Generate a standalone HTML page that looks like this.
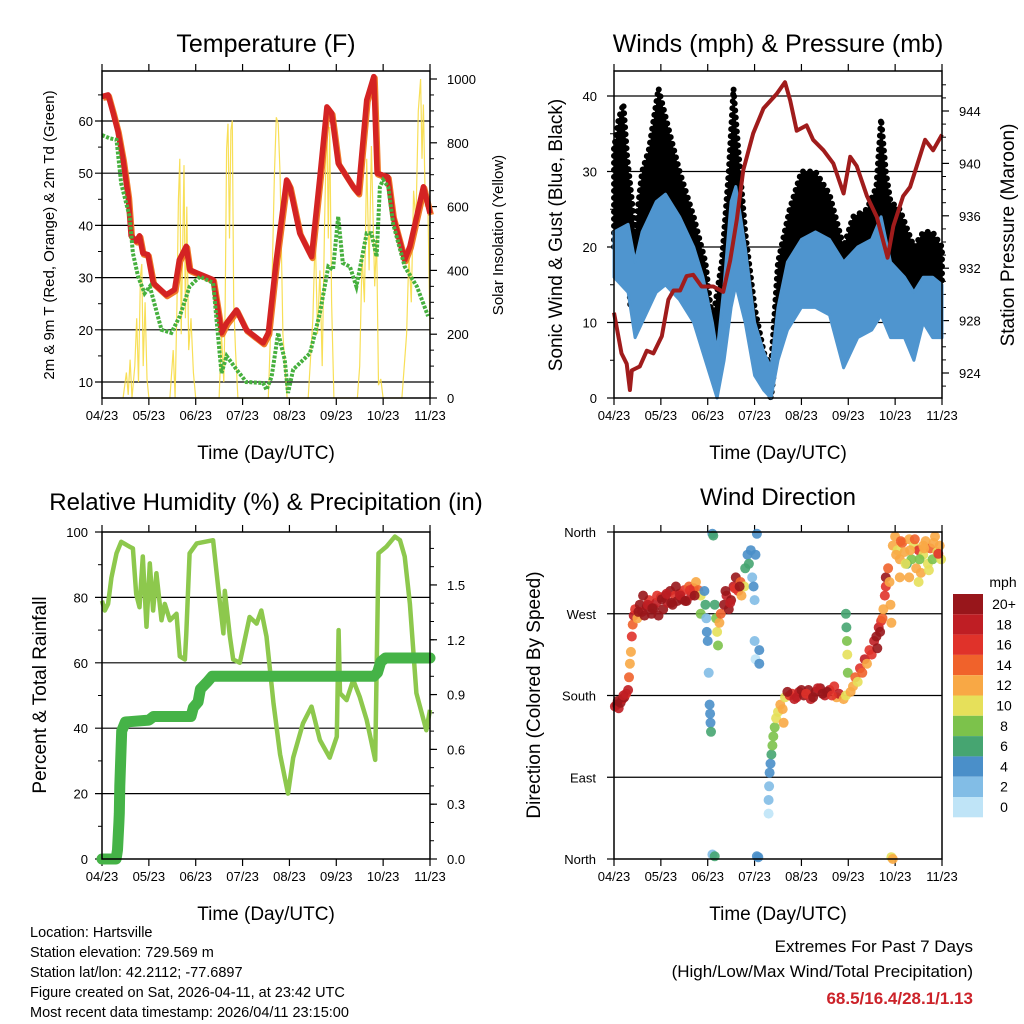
<!DOCTYPE html>
<html><head><meta charset="utf-8"><style>
html,body{margin:0;padding:0;background:#fff;}
svg{display:block;font-family:"Liberation Sans",sans-serif;}
</style></head><body>
<svg id="c" width="1024" height="1024" viewBox="0 0 1024 1024"></svg>
<script>
// ---------- data ----------
const monthLabels = ["04/23","05/23","06/23","07/23","08/23","09/23","10/23","11/23"];
const tempT = [0,.13,.24,.34,.45,.56,.62,.73,.8,.87,.98,1.09,1.37,1.55,1.65,1.8,1.87,2.02,2.37,2.55,2.66,2.87,3.08,3.44,3.55,3.72,3.94,4.01,4.22,4.47,4.65,4.8,4.9,5.04,5.36,5.47,5.65,5.8,5.87,6.1,6.21,6.46,6.57,6.86,7];
const tempV = [64.7,65,61.5,58,52.5,45.5,38,37,38,34.7,34.4,29,26.7,27.7,33.4,36,31.5,30.9,29.6,19.4,21.3,23.8,20,17.5,19.4,33.4,48.7,47.4,38.5,34,49.3,62.7,61.5,51.9,47.4,46.2,64,68.5,50,49.3,41.7,33.4,36,47.4,42.3];
const dewT = [0,.16,.31,.41,.59,.66,.77,.91,1.02,1.27,1.48,1.66,1.87,2.09,2.37,2.55,2.66,2.87,3.08,3.44,3.51,3.62,3.76,3.9,3.97,4.08,4.44,4.65,4.83,4.93,5.04,5.14,5.29,5.43,5.65,5.75,5.86,5.93,6,6.11,6.21,6.46,6.72,6.96];
const dewV = [57.3,56.7,56.4,48,41.7,34.7,30.2,27,28.3,20,19.4,22.6,28.3,30.2,29,11.7,15,12.4,10,9.8,8.5,11,19.4,14.3,7.9,12.4,15.5,23.2,32.1,31.5,41.7,32.8,32.1,28.3,38.5,38.5,34,47.4,48.7,47.4,40.4,32.1,28.3,22.6];
const solarT = [0.45,0.52,0.56,0.6,0.64,0.7,0.74,0.78,0.82,0.85,0.88,0.92,0.96,1.0,1.45,1.52,1.56,1.6,1.63,1.66,1.69,1.72,1.75,1.78,1.81,1.85,1.9,1.95,2.0,2.5,2.55,2.6,2.63,2.66,2.69,2.72,2.75,2.78,2.81,2.85,2.9,3.55,3.62,3.68,3.72,3.76,3.8,3.86,3.95,4.4,4.5,4.55,4.6,4.65,4.7,4.75,4.8,4.83,4.86,4.9,4.95,5.45,5.5,5.55,5.6,5.65,5.7,5.75,5.78,5.82,5.86,5.9,5.95,6.0,6.4,6.5,6.55,6.6,6.65,6.7,6.75,6.8,6.83,6.86,6.9,6.95,7.0];
const solarV = [0,80,10,120,0,100,250,50,380,420,100,300,60,0,0,150,0,300,620,750,200,450,730,250,600,150,250,80,0,0,200,50,300,780,860,500,840,870,300,150,0,0,300,700,880,860,700,200,0,0,250,520,200,400,100,550,900,500,850,300,0,0,100,450,300,750,400,790,600,350,500,40,60,0,0,200,450,300,650,550,900,1000,750,920,600,650,200];
const windT = [0,.3,.45,.6,.9,1.1,1.4,1.7,1.9,2.1,2.2,2.35,2.5,2.6,2.8,3.0,3.2,3.35,3.5,3.7,4.0,4.3,4.6,4.9,5.2,5.5,5.7,5.9,6.2,6.4,6.6,6.8,7];
const windLo = [16,14,8,10,14,15,13,10,6,2,0,5,12,15,10,3,1,0,5,9,12,12,11,4,8,9,11,8,8,5,10,8,8];
const windHi = [22,23,18,22,26,27,24,20,16,10,6,15,26,28,20,10,6,4,12,18,21,22,21,18,20,21,24,18,16,14,16,16,15];
const gustT = [0,.1,.2,.28,.35,.45,.6,.75,.95,1.15,1.4,1.7,1.95,2.1,2.3,2.45,2.55,2.65,2.8,3.0,3.2,3.35,3.5,3.75,4.0,4.3,4.6,4.9,5.1,5.4,5.6,5.7,5.8,5.9,6.1,6.4,6.6,6.8,7];
const gustLo = [20,21,22,20,12,12,16,18,20,20,17,14,10,5,6,14,20,20,14,6,2,0,8,15,18,18,17,10,13,15,16,17,16,16,16,12,14,14,15];
const gustHi = [33,37,39,32,28,22,30,33,41,36,30,24,18,10,18,30,41,33,22,12,6,4,18,25,30,30,27,20,24,25,28,37,30,26,25,20,22,22,20];
const presT = [0,.16,.27,.34,.38,.55,.7,.84,1.02,1.16,1.27,1.41,1.55,1.69,1.87,2.12,2.33,2.48,2.62,2.76,2.97,3.19,3.47,3.65,3.76,3.9,4.11,4.25,4.47,4.68,4.9,5.04,5.18,5.4,5.61,5.84,5.96,6.17,6.32,6.64,6.81,7];
const presV = [928.6,925.5,924.7,922.7,924.2,924.5,925.7,925.5,926.8,929.6,930.3,930.3,931.4,931.5,930.6,930.6,930.2,932.6,935.7,939.5,942.3,944.2,945.3,946.2,944.8,942.5,942.9,941.8,941,940,937.7,940.5,939.8,937.5,935.9,932.8,935.2,937.5,938.2,941.8,941,942.2];
const rhT = [0,.06,.13,.2,.31,.41,.59,.66,.73,.8,.87,.95,1.02,1.09,1.16,1.27,1.34,1.45,1.59,1.66,1.77,1.8,1.87,2.02,2.37,2.48,2.59,2.62,2.73,2.8,2.94,3.15,3.3,3.4,3.51,3.66,3.8,3.97,4.08,4.29,4.47,4.65,4.86,5.01,5.05,5.08,5.22,5.36,5.5,5.65,5.83,5.9,6.07,6.25,6.36,6.46,6.57,6.71,6.92,7];
const rhV = [79,76,78,86,93.5,97,95.5,95,81,77,92.5,71,90.4,76,87.4,73,78,73,75,62,61,69,93.5,96.5,97.5,83,69,82,68,61,60,74,72,76,68,47.6,32,20,31,41.5,46.6,36.4,31,37.4,70,50.7,48.6,54.7,49.6,42.5,30.3,93.5,95.5,98.6,97.5,92.5,78,50.7,39.4,45.6];
const rainT = [0,0.3,0.33,0.36,0.37,0.38,0.39,0.42,0.5,1.0,1.1,1.9,1.95,2.05,2.1,2.25,2.35,5.8,5.88,5.95,6.05,7];
const rainV = [0,0,0.05,0.2,0.25,0.4,0.48,0.7,0.75,0.76,0.78,0.78,0.83,0.86,0.93,0.97,1.0,1.0,1.02,1.08,1.1,1.1];
const dirT = [0.02,0.06,0.1,0.14,0.18,0.22,0.26,0.3,0.32,0.34,0.36,0.38,0.4,0.42,0.45,0.5,0.55,0.6,0.65,0.7,0.75,0.8,0.85,0.9,0.95,1.0,1.05,1.1,1.15,1.2,1.25,1.3,1.35,1.4,1.45,1.5,1.55,1.6,1.65,1.7,1.75,1.8,1.85,1.85,1.93,1.95,1.97,1.98,2.0,2.02,2.04,2.05,2.06,2.07,2.1,2.12,2.1,2.15,2.15,2.18,2.2,2.22,2.25,2.28,2.35,2.4,2.45,2.5,2.55,2.6,2.65,2.7,2.72,2.78,2.8,2.85,2.88,2.92,2.95,2.98,3.0,3.02,3.05,3.0,3.02,3.1,3.1,3.05,3.08,3.3,3.3,3.31,3.32,3.34,3.36,3.38,3.4,3.43,3.46,3.5,3.55,3.6,3.62,3.65,3.75,3.8,3.9,3.95,4.05,4.15,4.2,4.3,4.4,4.5,4.6,4.7,4.75,4.8,4.9,4.95,4.95,4.96,4.97,4.98,4.99,5.05,5.1,5.15,5.2,5.25,5.3,5.35,5.4,5.45,5.5,5.55,5.6,5.62,5.65,5.68,5.7,5.73,5.75,5.78,5.8,5.8,5.85,5.88,5.9,5.92,5.95,6.0,6.05,6.1,6.15,6.2,6.25,6.3,6.35,6.4,6.45,6.5,6.55,6.6,6.65,6.7,6.75,6.8,6.85,6.9,6.95,6.98,6.1,6.3,6.5,6.6,5.92,5.95,0.08,0.2,0.52,0.62,0.72,0.82,0.92,1.02,1.12,1.22,1.32,1.42,1.52,1.62,1.72,2.38,2.48,2.58,2.68,3.7,3.85,4.0,4.1,4.25,4.35,4.45,4.55,4.65,6.02,6.12,6.22,6.32,6.42,6.52,6.62,6.72,6.82,6.92];
const dirDeg = [168,170,166,172,176,178,182,186,200,215,228,245,258,268,275,265,280,272,268,278,285,270,276,282,268,288,275,290,282,295,280,290,284,292,286,296,284,300,290,298,305,296,290,270,295,280,265,250,240,205,170,160,150,140,358,356,5,3,280,265,250,235,260,270,280,290,275,285,300,310,295,305,290,300,320,335,325,340,310,300,285,335,358,240,220,230,215,3,2,50,65,80,95,105,115,125,135,145,155,162,170,165,150,178,180,182,178,184,180,186,176,184,188,180,186,190,178,182,176,180,270,255,240,225,205,184,190,200,195,210,205,220,215,230,225,240,245,232,255,250,262,265,275,290,310,300,320,305,280,260,345,355,340,330,348,338,325,352,330,345,320,340,315,335,350,325,342,330,355,338,345,330,310,310,305,345,2,0,174,180,272,290,280,276,290,286,292,282,300,290,284,296,290,295,282,298,300,184,176,186,182,178,188,182,184,180,335,350,325,340,352,330,342,318,348,336];
const dirSpd = [18,20,19,20,18,20,16,18,14,12,12,16,14,18,16,12,20,18,20,20,16,20,20,18,20,20,20,20,18,20,20,16,20,18,20,16,20,14,18,16,12,14,10,8,4,6,2,4,4,2,4,4,4,6,4,6,2,6,6,8,10,8,12,14,20,18,20,20,18,20,16,14,12,10,6,4,6,4,2,4,2,4,4,2,0,4,4,4,4,0,2,2,4,4,6,8,8,8,10,10,12,12,12,10,16,16,18,18,20,20,18,20,20,18,18,16,12,18,12,10,6,6,8,10,8,12,12,14,10,16,14,18,12,16,16,18,20,20,18,20,16,14,12,16,20,16,14,12,12,12,12,12,10,12,14,12,6,12,8,10,12,16,12,10,12,10,14,8,12,10,12,10,12,12,10,12,10,12,20,18,20,20,18,20,16,20,18,20,20,18,20,16,20,20,18,16,20,20,18,20,16,20,18,20,20,16,12,14,10,12,14,8,12,10,12,16];
const speedLabels = ["20+","18","16","14","12","10","8","6","4","2","0"];
const speedColors = ["#98161b","#bf1e24","#e0322a","#f0622b","#f8a845","#e6e05a","#7cc24b","#46a571","#4a8fc9","#82bde6","#bfe4f7"];

// ---------- helpers ----------
const NS = "http://www.w3.org/2000/svg";
const svg = document.getElementById("c");
function mk(tag, attrs, parent) {
  const e = document.createElementNS(NS, tag);
  for (const k in attrs) e.setAttribute(k, attrs[k]);
  (parent || svg).appendChild(e);
  return e;
}
function txt(s, x, y, size, anchor, name, extra) {
  const t = mk("text", Object.assign({x: x, y: y, "font-size": size, "text-anchor": anchor || "middle", fill: "#000"}, extra || {}));
  t.textContent = s;
  
  
  return t;
}
function vtxt(s, x, y, size, name) {
  const t = mk("text", {x: 0, y: 0, "font-size": size, "text-anchor": "middle", fill: "#000", transform: "translate(" + x + "," + y + ") rotate(-90)"});
  t.textContent = s;
  
  
  return t;
}
function line(x1, y1, x2, y2, stroke, w, name, parent) {
  const l = mk("line", {x1: x1, y1: y1, x2: x2, y2: y2, stroke: stroke, "stroke-width": w}, parent);
  
  
  return l;
}
function pathFrom(ts, vs, xf, yf) {
  let d = "";
  for (let i = 0; i < ts.length; i++) d += (i ? "L" : "M") + xf(ts[i]).toFixed(1) + "," + yf(vs[i]).toFixed(1);
  return d;
}
function bandFrom(ts, lo, hi, xf, yf) {
  let d = "";
  for (let i = 0; i < ts.length; i++) d += (i ? "L" : "M") + xf(ts[i]).toFixed(1) + "," + yf(hi[i]).toFixed(1);
  for (let i = ts.length - 1; i >= 0; i--) d += "L" + xf(ts[i]).toFixed(1) + "," + yf(lo[i]).toFixed(1);
  return d + "Z";
}
function panelFrame(p, name) {
  const g = mk("g", {});
  
  
  for (let i = 0; i < monthLabels.length; i++) {
    const x = p.x0 + i / 7 * (p.x1 - p.x0);
    line(x, p.y1, x, p.y1 + 7, "#000", 1.2, "x-tick", g);
    line(x, p.y0 - 7, x, p.y0, "#000", 1.2, "x-tick-top", g);
    txt(monthLabels[i], x, p.y1 + 22, 13, "middle", "x-tick-label");
  }
  txt("Time (Day/UTC)", (p.x0 + p.x1) / 2, p.y1 + 61, 19, "middle", "x-axis-title");
  return g;
}
function border(p) {
  const r = mk("rect", {x: p.x0, y: p.y0, width: p.x1 - p.x0, height: p.y1 - p.y0, fill: "none", stroke: "#000", "stroke-width": 1.5});
  
  
}

// ========== Panel 1: Temperature ==========
const P1 = {x0: 102, x1: 430, y0: 71, y1: 398};
const x1s = t => P1.x0 + t / 7 * (P1.x1 - P1.x0);
const yT = v => 382 - (v - 10) * 5.22;
const yS = v => 398 - v * 0.319;
txt("Temperature (F)", 266, 52, 25, "middle", "temperature-title");
panelFrame(P1, "temperature-axes");
[10,20,30,40,50,60].forEach(v => {
  line(P1.x0 - 7, yT(v), P1.x1, yT(v), "#000", 1.2, "temp-gridline");
  txt(String(v), P1.x0 - 9, yT(v) + 5, 13, "end", "temp-y-tick-label");
});
[15,25,35,45,55,65].forEach(v => line(P1.x0 - 4, yT(v), P1.x0, yT(v), "#000", 1, "temp-minor-tick"));
[0,200,400,600,800,1000].forEach(v => {
  line(P1.x1, yS(v), P1.x1 + 7, yS(v), "#000", 1.2, "solar-y-tick");
  txt(String(v), P1.x1 + 17, yS(v) + 5, 13, "start", "solar-y-tick-label");
});
for (let v = 50; v < 1000; v += 50) if (v % 200) line(P1.x1, yS(v), P1.x1 + 4, yS(v), "#000", 1, "solar-minor-tick");
vtxt("2m & 9m T (Red, Orange) & 2m Td (Green)", 54, 235, 15, "temp-y-axis-title");
vtxt("Solar Insolation (Yellow)", 503, 235, 15, "solar-y-axis-title");
{
  const s = mk("path", {d: pathFrom(solarT, solarV, x1s, yS), fill: "none", stroke: "#f7dc45", "stroke-width": 1.2, "stroke-opacity": 0.9});
  
  
  const o = mk("path", {d: pathFrom(tempT, tempV, x1s, yT), fill: "none", stroke: "#f07a28", "stroke-width": 6, "stroke-linejoin": "round", transform: "translate(1,1.5)"});
  
  
  const r = mk("path", {d: pathFrom(tempT, tempV, x1s, yT), fill: "none", stroke: "#d42323", "stroke-width": 5.5, "stroke-linejoin": "round"});
  
  
  const g = mk("path", {d: pathFrom(dewT, dewV, x1s, yT), fill: "none", stroke: "#46b03e", "stroke-width": 4, "stroke-dasharray": "3 1.5"});
  
  
}
border(P1);

// ========== Panel 2: Winds & Pressure ==========
const P2 = {x0: 614, x1: 942, y0: 71, y1: 398};
const x2s = t => P2.x0 + t / 7 * (P2.x1 - P2.x0);
const yW = v => 398 - v * 7.55;
const yP = v => 373 - (v - 924) * 13.1;
txt("Winds (mph) & Pressure (mb)", 778, 52, 25, "middle", "winds-title");
panelFrame(P2, "winds-axes");
[0,10,20,30,40].forEach(v => {
  if (v > 0) line(P2.x0 - 7, yW(v), P2.x1, yW(v), "#000", 1.2, "wind-gridline");
  else line(P2.x0 - 7, yW(v), P2.x0, yW(v), "#000", 1.2, "wind-y-tick");
  txt(String(v), P2.x0 - 17, yW(v) + 5, 13, "end", "wind-y-tick-label");
});
[5,15,25,35].forEach(v => line(P2.x0 - 4, yW(v), P2.x0, yW(v), "#000", 1, "wind-minor-tick"));
[924,928,932,936,940,944].forEach(v => {
  line(P2.x1, yP(v), P2.x1 + 7, yP(v), "#000", 1.2, "pressure-y-tick");
  txt(String(v), P2.x1 + 17, yP(v) + 5, 13, "start", "pressure-y-tick-label");
});
for (let v = 923; v <= 946; v++) if (v % 4) line(P2.x1, yP(v), P2.x1 + 4, yP(v), "#000", 1, "pressure-minor-tick");
vtxt("Sonic Wind & Gust (Blue, Black)", 562, 235, 19, "wind-y-axis-title");
vtxt("Station Pressure (Maroon)", 1014, 235, 19, "pressure-y-axis-title");
{
  const gb = mk("path", {d: bandFrom(gustT, gustLo, gustHi, x2s, yW), fill: "#000", stroke: "#000", "stroke-width": 6, "stroke-linejoin": "round", "stroke-linecap": "round", "stroke-dasharray": "0 7"});
  
  
  const wb = mk("path", {d: bandFrom(windT, windLo, windHi, x2s, yW), fill: "#4f95cf", stroke: "#4f95cf", "stroke-width": 3, "stroke-linejoin": "round"});
  
  
  const pl = mk("path", {d: pathFrom(presT, presV, x2s, yP), fill: "none", stroke: "#a01c1c", "stroke-width": 4, "stroke-linejoin": "round"});
  
  
}
border(P2);

// ========== Panel 3: RH & Precip ==========
const P3 = {x0: 102, x1: 430, y0: 532, y1: 859};
const x3s = t => P3.x0 + t / 7 * (P3.x1 - P3.x0);
const yRH = v => 859 - v * 3.27;
const yIn = v => 859 - v * 182.7;
txt("Relative Humidity (%) & Precipitation (in)", 266, 510, 24, "middle", "rh-title");
panelFrame(P3, "rh-axes");
[0,20,40,60,80,100].forEach(v => {
  if (v > 0 && v < 100) line(P3.x0 - 7, yRH(v), P3.x1, yRH(v), "#000", 1.2, "rh-gridline");
  else line(P3.x0 - 7, yRH(v), P3.x0, yRH(v), "#000", 1.2, "rh-y-tick");
  txt(String(v), P3.x0 - 14, yRH(v) + 5, 13, "end", "rh-y-tick-label");
});
[10,30,50,70,90].forEach(v => line(P3.x0 - 4, yRH(v), P3.x0, yRH(v), "#000", 1, "rh-minor-tick"));
["0.0","0.3","0.6","0.9","1.2","1.5"].forEach(s => {
  const v = parseFloat(s);
  line(P3.x1, yIn(v), P3.x1 + 7, yIn(v), "#000", 1.2, "precip-y-tick");
  txt(s, P3.x1 + 17, yIn(v) + 5, 13, "start", "precip-y-tick-label");
});
for (let v = 0.1; v < 1.75; v += 0.1) line(P3.x1, yIn(v), P3.x1 + 4, yIn(v), "#000", 1, "precip-minor-tick");
vtxt("Percent & Total Rainfall", 46, 695, 19, "rh-y-axis-title");
{
  const rh = mk("path", {d: pathFrom(rhT, rhV, x3s, yRH), fill: "none", stroke: "#8dc84d", "stroke-width": 4.5, "stroke-linejoin": "round"});
  
  
  const pr = mk("path", {d: pathFrom(rainT, rainV, x3s, yIn), fill: "none", stroke: "#45b347", "stroke-width": 11, "stroke-linecap": "round", "stroke-linejoin": "round"});
  
  
}
border(P3);

// ========== Panel 4: Wind Direction ==========
const P4 = {x0: 614, x1: 942, y0: 532, y1: 859};
const x4s = t => P4.x0 + t / 7 * (P4.x1 - P4.x0);
const yD = v => 859 - v / 360 * 327;
txt("Wind Direction", 778, 505, 24, "middle", "wind-direction-title");
panelFrame(P4, "wind-direction-axes");
[["North",0],["East",90],["South",180],["West",270],["North",360]].forEach(a => {
  line(P4.x0 - 7, yD(a[1]), (a[1] > 0 && a[1] < 360) ? P4.x1 : P4.x0, yD(a[1]), "#000", 1.2, "direction-gridline");
  txt(a[0], P4.x0 - 18, yD(a[1]) + 5, 13, "end", "direction-tick-label");
});
vtxt("Direction (Colored By Speed)", 540, 695, 19, "direction-y-axis-title");
function speedColor(s) {
  let idx = 10 - Math.min(10, Math.floor(s / 2));
  return speedColors[idx];
}
for (let i = 0; i < dirT.length; i++) {
  const c = mk("circle", {cx: x4s(dirT[i]).toFixed(1), cy: yD(dirDeg[i]).toFixed(1), r: 5, fill: speedColor(dirSpd[i]), "fill-opacity": 0.9});
  
  
}
border(P4);

// colorbar
txt("mph", 1003, 587, 14, "middle", "colorbar-title");
for (let i = 0; i < speedLabels.length; i++) {
  const y = 594 + i * 20.3;
  const r = mk("rect", {x: 953, y: y, width: 30, height: 20.3, fill: speedColors[i]});
  
  
  txt(speedLabels[i], 1004, y + 15, 14, "middle", "colorbar-label");
}

// footer text
const info = ["Location: Hartsville","Station elevation: 729.569 m","Station lat/lon: 42.2112; -77.6897","Figure created on Sat, 2026-04-11, at 23:42 UTC","Most recent data timestamp: 2026/04/11 23:15:00"];
info.forEach((s, i) => txt(s, 30, 937 + i * 20, 14.5, "start", "station-info-line"));
txt("Extremes For Past 7 Days", 973, 952, 17, "end", "extremes-heading");
txt("(High/Low/Max Wind/Total Precipitation)", 973, 977, 17, "end", "extremes-subheading");
txt("68.5/16.4/28.1/1.13", 973, 1004, 17, "end", "extremes-values", {fill: "#cc2229", "font-weight": "bold"});
</script>
</body></html>
